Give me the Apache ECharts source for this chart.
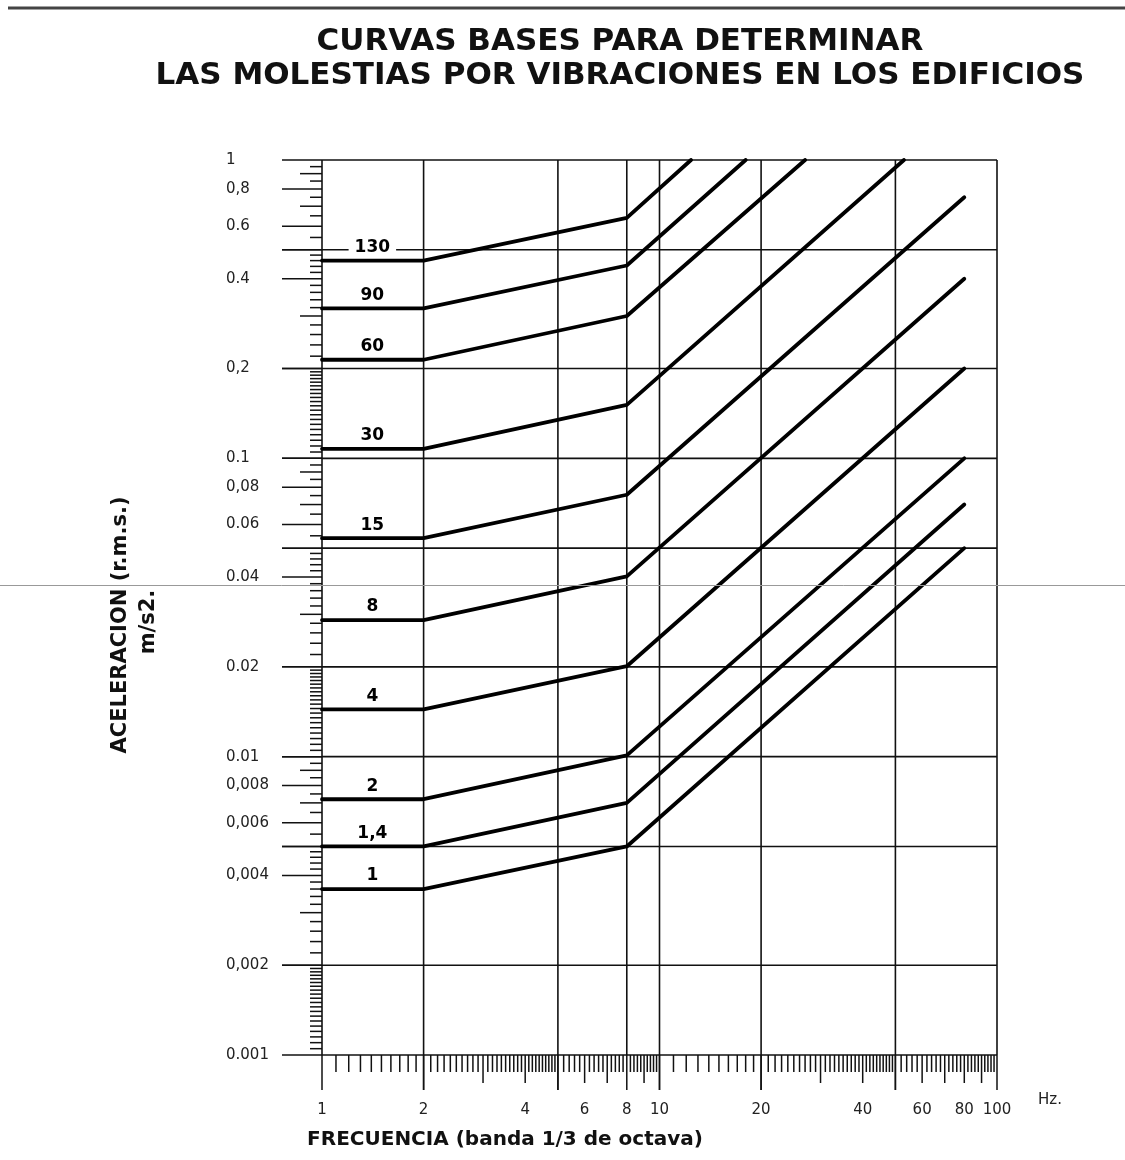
<!DOCTYPE html>
<html><head><meta charset="utf-8">
<script src="https://cdn.jsdelivr.net/npm/echarts@6/dist/echarts.min.js"></script>
<style>html,body{margin:0;padding:0;background:#fff}#c{width:1125px;height:1160px}</style>
</head><body><div id="c"></div>
<script>
// ---- texts ----
const titleLines = ['CURVAS BASES PARA DETERMINAR', 'LAS MOLESTIAS POR VIBRACIONES EN LOS EDIFICIOS'];
const xTitle = 'FRECUENCIA (banda 1/3 de octava)';
const yTitle1 = 'ACELERACION (r.m.s.)';
const yTitle2 = 'm/s2.';
const xUnit = 'Hz.';

// ---- axes: tick labels and grid ----
const freqTickValues = [1, 2, 4, 6, 8, 10, 20, 40, 60, 80, 100];
const freqTickLabels = ['1', '2', '4', '6', '8', '10', '20', '40', '60', '80', '100'];
const freqGridValues = [1, 2, 5, 8, 10, 20, 50, 100];
const accelGridValues = [1, 0.5, 0.2, 0.1, 0.05, 0.02, 0.01, 0.005, 0.002, 0.001];
const accelTickValues = [1, 0.8, 0.6, 0.4, 0.2, 0.1, 0.08, 0.06, 0.04, 0.02, 0.01, 0.008, 0.006, 0.004, 0.002, 0.001];
const accelTickLabels = ['1', '0,8', '0.6', '0.4', '0,2', '0.1', '0,08', '0.06', '0.04', '0.02', '0.01', '0,008', '0,006', '0,004', '0,002', '0.001'];
// minor tick subdivisions [from, to, step]
const freqMinorRanges = [[1, 2, 0.1], [2, 5, 0.1], [5, 10, 0.2], [10, 20, 1], [20, 50, 1], [50, 100, 2]];
const accelMinorRanges = [[1, 2, 0.05], [2, 5, 0.2], [5, 10, 0.5]];
const accelDecades = [0.001, 0.01, 0.1];

// ---- curves (frequency Hz, acceleration m/s2) ----
const curveNames = ['1', '1,4', '2', '4', '8', '15', '30', '60', '90', '130'];
const curve1   = [[1, 0.0036], [2, 0.0036], [8, 0.005], [80, 0.05]];
const curve1_4 = [[1, 0.005], [2, 0.005], [8, 0.007], [80, 0.07]];
const curve2   = [[1, 0.0072], [2, 0.0072], [8, 0.0101], [80, 0.1]];
const curve4   = [[1, 0.0144], [2, 0.0144], [8, 0.0201], [80, 0.2]];
const curve8   = [[1, 0.0287], [2, 0.0287], [8, 0.0402], [80, 0.4]];
const curve15  = [[1, 0.054], [2, 0.054], [8, 0.0755], [80, 0.75]];
const curve30  = [[1, 0.1076], [2, 0.1076], [8, 0.151], [53, 1]];
const curve60  = [[1, 0.214], [2, 0.214], [8, 0.3], [27, 1]];
const curve90  = [[1, 0.318], [2, 0.318], [8, 0.443], [18, 1]];
const curve130 = [[1, 0.46], [2, 0.46], [8, 0.64], [12.4, 1]];
const curves = [curve1, curve1_4, curve2, curve4, curve8, curve15, curve30, curve60, curve90, curve130];
const curveLabelFreq = 1.41;

// ---- build helpers ----
function near(a, b) { return Math.abs(a / b - 1) < 1e-6; }
function inList(v, list) { return list.some(function (w) { return near(v, w); }); }
function isDecadeInteger(v) {
  const d = Math.pow(10, Math.floor(Math.log10(v) + 1e-9));
  const k = v / d;
  return Math.abs(k - Math.round(k)) < 1e-6;
}

const xTicks = [];
freqMinorRanges.forEach(function (r) {
  for (let i = 0; r[0] + i * r[2] < r[1] + 1e-9; i++) {
    const v = Math.round((r[0] + i * r[2]) * 1e6) / 1e6;
    let len = 17;
    if (inList(v, freqGridValues)) len = 35;
    else if (isDecadeInteger(v)) len = 28;
    xTicks.push([v, 0.001, len, 0]);
  }
});
const yTicks = [];
accelDecades.forEach(function (d) {
  accelMinorRanges.forEach(function (r) {
    for (let i = 0; r[0] + i * r[2] < r[1] + 1e-9; i++) {
      const v = Math.round((r[0] + i * r[2]) * d * 1e8) / 1e8;
      let len = 12;
      if (inList(v, accelTickValues) || inList(v, accelGridValues)) len = 40;
      else if (isDecadeInteger(v)) len = 22;
      yTicks.push([1, v, len, 1]);
    }
  });
});

const gridData = freqGridValues.map(function (f) { return [f, 0.001, 0]; })
  .concat(accelGridValues.map(function (a) { return [1, a, 1]; }));
const xLabelData = freqTickValues.map(function (f, i) { return [f, 0.001, i]; });
const yLabelData = accelTickValues.map(function (a, i) { return [1, a, i]; });
const curveLabelData = curves.map(function (c, i) { return [curveLabelFreq, c[0][1], i]; });

const INK = '#111';
const labelFont = '15px "DejaVu Sans"';

const series = [];
series.push({
  type: 'custom', name: 'grid', z: 1, silent: true,
  data: gridData, encode: { x: 0, y: 1 },
  renderItem: function (params, api) {
    const dir = api.value(2);
    let p1, p2;
    if (dir === 0) { p1 = api.coord([api.value(0), 0.001]); p2 = api.coord([api.value(0), 1]); }
    else { p1 = api.coord([1, api.value(1)]); p2 = api.coord([100, api.value(1)]); }
    return { type: 'line', shape: { x1: p1[0], y1: p1[1], x2: p2[0], y2: p2[1] }, style: { stroke: INK, lineWidth: 1.6 } };
  }
});
series.push({
  type: 'custom', name: 'ticks', z: 1, silent: true,
  data: xTicks.concat(yTicks), encode: { x: 0, y: 1 },
  renderItem: function (params, api) {
    const p = api.coord([api.value(0), api.value(1)]);
    const len = api.value(2);
    const shape = api.value(3) === 0
      ? { x1: p[0], y1: p[1], x2: p[0], y2: p[1] + len }
      : { x1: p[0] - len, y1: p[1], x2: p[0], y2: p[1] };
    return { type: 'line', shape: shape, style: { stroke: INK, lineWidth: 1.5 } };
  }
});
series.push({
  type: 'custom', name: 'xLabels', z: 3, silent: true,
  data: xLabelData, encode: { x: 0, y: 1 },
  renderItem: function (params, api) {
    const p = api.coord([api.value(0), api.value(1)]);
    return { type: 'text', x: p[0], y: p[1] + 55,
      style: { text: freqTickLabels[api.value(2)], textAlign: 'center', textVerticalAlign: 'middle', font: labelFont, fill: '#222' } };
  }
});
series.push({
  type: 'custom', name: 'yLabels', z: 3, silent: true,
  data: yLabelData, encode: { x: 0, y: 1 },
  renderItem: function (params, api) {
    const p = api.coord([api.value(0), api.value(1)]);
    return { type: 'text', x: p[0] - 96, y: p[1],
      style: { text: accelTickLabels[api.value(2)], textAlign: 'left', textVerticalAlign: 'middle', font: labelFont, fill: '#222' } };
  }
});
curves.forEach(function (c, i) {
  series.push({
    type: 'line', name: curveNames[i], data: c, z: 5, silent: true,
    showSymbol: false, symbol: 'none', animation: false,
    lineStyle: { color: '#000', width: 3.8, join: 'round', cap: 'round' }
  });
});
series.push({
  type: 'custom', name: 'curveLabels', z: 6, silent: true,
  data: curveLabelData, encode: { x: 0, y: 1 },
  renderItem: function (params, api) {
    const p = api.coord([api.value(0), api.value(1)]);
    return { type: 'text', x: p[0], y: p[1] - 13,
      style: { text: curveNames[api.value(2)], textAlign: 'center', textVerticalAlign: 'middle',
        font: 'bold 17px "DejaVu Sans"', fill: '#000', backgroundColor: '#fff', padding: [0, 6] } };
  }
});

const chart = echarts.init(document.getElementById('c'), null, { renderer: 'canvas' });
chart.setOption({
  animation: false,
  backgroundColor: '#fff',
  grid: { left: 322, right: 128, top: 160, bottom: 105, containLabel: false },
  xAxis: { type: 'log', logBase: 10, min: 1, max: 100,
    axisLine: { show: false }, axisTick: { show: false }, axisLabel: { show: false }, splitLine: { show: false } },
  yAxis: { type: 'log', logBase: 10, min: 0.001, max: 1,
    axisLine: { show: false }, axisTick: { show: false }, axisLabel: { show: false }, splitLine: { show: false } },
  series: series,
  graphic: [
    { type: 'line', z: 10, shape: { x1: 8, y1: 8, x2: 1125, y2: 8 }, style: { stroke: '#444', lineWidth: 3 } },
    { type: 'text', x: 620, y: 42, style: { text: titleLines[0], textAlign: 'center', textVerticalAlign: 'middle', font: 'bold 31px "DejaVu Sans"', fill: '#111' } },
    { type: 'text', x: 620, y: 76, style: { text: titleLines[1], textAlign: 'center', textVerticalAlign: 'middle', font: 'bold 31px "DejaVu Sans"', fill: '#111' } },
    { type: 'text', x: 505, y: 1140, style: { text: xTitle, textAlign: 'center', textVerticalAlign: 'middle', font: 'bold 20px "DejaVu Sans"', fill: '#111' } },
    { type: 'text', x: 1050, y: 1100, style: { text: xUnit, textAlign: 'center', textVerticalAlign: 'middle', font: labelFont, fill: '#222' } },
    { type: 'text', x: 121, y: 625, rotation: Math.PI / 2, style: { text: yTitle1, textAlign: 'center', textVerticalAlign: 'middle', font: 'bold 21px "DejaVu Sans"', fill: '#111' } },
    { type: 'text', x: 149, y: 622, rotation: Math.PI / 2, style: { text: yTitle2, textAlign: 'center', textVerticalAlign: 'middle', font: 'bold 21px "DejaVu Sans"', fill: '#111' } },
    { type: 'line', z: 20, shape: { x1: 0, y1: 585.5, x2: 1125, y2: 585.5 }, style: { stroke: '#999', lineWidth: 1 } }
  ]
});
</script>
</body></html>
